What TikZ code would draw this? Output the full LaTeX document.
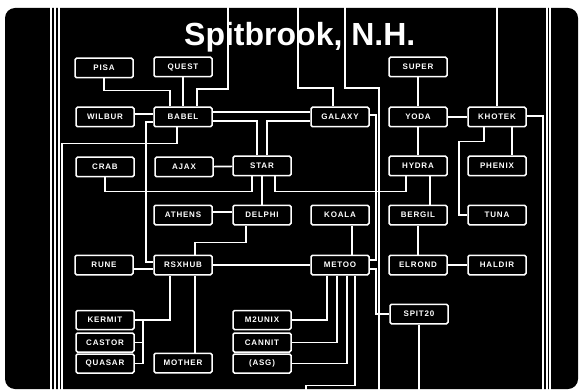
\documentclass[tikz,border=0pt]{standalone}
\usepackage{fontspec}
\setmainfont{Liberation Sans}
\newfontfamily\hostfont[LetterSpace=10]{Liberation Sans}
\tikzset{
  host/.style={draw=white,line width=1.5pt,rounded corners=1.5pt,fill=black,text=white,
    minimum width=58pt,minimum height=19.5pt,inner sep=0pt,font=\hostfont\bfseries\fontsize{8}{9}\selectfont},
  stack/.style={host,minimum height=19pt},
  link/.style={white,line width=1.7pt},
  rail/.style={white,line width=1.4pt}
}
\begin{document}
\begin{tikzpicture}[x=1pt,y=-1pt]
\useasboundingbox (0,0) rectangle (583,390);
\fill[white] (0,0) rectangle (583,390);
\fill[black,rounded corners=10pt] (5,8) rectangle (578,389);
\node[anchor=base west,text=white,font=\bfseries\fontsize{32}{34}\selectfont,inner sep=0pt] (title) at (184,46) {Spitbrook, N.H.};
\foreach \x in {51,55,59,547,550} \draw[rail] (\x,0) -- (\x,390);
\coordinate (upB) at (228,0);\coordinate (upG) at (298,0);\coordinate (upM) at (345,0);\coordinate (upK) at (497,0);
\coordinate (dnL) at (62,390);\coordinate (dnA) at (306,390);\coordinate (dnM) at (379,390);
\coordinate (dnS) at (419,390);\coordinate (dnK) at (543,390);
\node[host] (pisa) at (104,68) {PISA};\node[host] (quest) at (183,67) {QUEST};\node[host] (super) at (418,67) {SUPER};
\node[host] (wilbur) at (105,117) {WILBUR};\node[host] (babel) at (183,117) {BABEL};
\node[host] (galaxy) at (340,117) {GALAXY};\node[host] (yoda) at (418,117) {YODA};\node[host] (khotek) at (497,117) {KHOTEK};
\node[host] (crab) at (105,167) {CRAB};\node[host] (ajax) at (184,167) {AJAX};\node[host] (star) at (262,166) {STAR};
\node[host] (hydra) at (418,166) {HYDRA};\node[host] (phenix) at (497,166) {PHENIX};
\node[host] (athens) at (183,215) {ATHENS};\node[host] (delphi) at (262,215) {DELPHI};\node[host] (koala) at (340,215) {KOALA};
\node[host] (bergil) at (418,215) {BERGIL};\node[host] (tuna) at (497,215) {TUNA};
\node[host] (rune) at (104,265) {RUNE};\node[host] (rsxhub) at (183,265) {RSXHUB};\node[host] (metoo) at (340,265) {METOO};
\node[host] (elrond) at (418,265) {ELROND};\node[host] (haldir) at (497,265) {HALDIR};
\node[host] (spit) at (419,314) {SPIT20};
\node[stack] (kermit) at (105,320) {KERMIT};\node[stack] (castor) at (105,342.5) {CASTOR};\node[stack] (quasar) at (105,363.5) {QUASAR};
\node[stack] (m2unix) at (262,320) {M2UNIX};\node[stack] (cannit) at (262,342.5) {CANNIT};\node[stack] (asg) at (262,363.5) {(ASG)};
\node[host] (mother) at (183,363) {MOTHER};
\draw[link] (pisa.south) -- ++(0,12) -| ([xshift=-13pt]babel.north);
\draw[link] (quest) -- (babel);
\draw[link] (upB) -- ++(0,89) -| ([xshift=14pt]babel.north);
\draw[link] ([yshift=3pt]wilbur.east) -- ([yshift=3pt]babel.west);
\draw[link] ([yshift=5pt]babel.east) -- ([yshift=5pt]galaxy.west);
\draw[link] ([yshift=-4pt]babel.east) -| ([xshift=-5pt]star.north);
\draw[link] ([yshift=-4pt]galaxy.west) -| ([xshift=5pt]star.north);
\draw[link] (ajax) -- (star);
\draw[link] (crab.south) -- ++(0,14) -| ([xshift=-10pt]star.south);
\draw[link] (star) -- (delphi);
\draw[link] ([xshift=13pt]star.south) -- ++(0,15) -| ([xshift=-12pt]hydra.south);
\draw[link] ([yshift=-5pt]babel.west) -- ++(-7,0) |- ([yshift=3pt]rsxhub.west);
\draw[link] ([yshift=-4pt]rune.east) -- ([yshift=-4pt]rsxhub.west);
\draw[link] ([xshift=-6pt]babel.south) -- ++(0,16) -| (dnL);
\draw[link] (upG) -- ++(0,88) -| ([xshift=-7pt]galaxy.north);
\draw[link] (upM) -- ++(0,88) -| (dnM);
\draw[link] ([yshift=2pt]galaxy.east) -- ++(6,0) |- ([yshift=5pt]metoo.east);
\draw[link] ([yshift=-4pt]metoo.east) -- ++(6,0) |- (spit.west);
\draw[link] (super) -- (yoda);
\draw[link] (yoda) -- (hydra);
\draw[link] (yoda) -- (khotek);
\draw[link] (upK) -- (khotek.north);
\draw[link] ([yshift=1pt]khotek.east) -| (dnK);
\draw[link] ([xshift=-13pt]khotek.south) -- ++(0,14) -- ++(-25,0) |- (tuna.west);
\draw[link] ([xshift=15pt]khotek.south) -- ([xshift=15pt]phenix.north);
\draw[link] ([xshift=12pt]hydra.south) -- ([xshift=12pt]bergil.north);
\draw[link] (bergil) -- (elrond);
\draw[link] (elrond) -- (haldir);
\draw[link] (spit) -- (dnS);
\draw[link] ([xshift=12pt]koala.south) -- ([xshift=12pt]metoo.north);
\draw[link] (rsxhub) -- (metoo);
\draw[link] ([xshift=-13pt]metoo.south) |- (m2unix.east);
\draw[link] ([xshift=-3pt]metoo.south) |- (cannit.east);
\draw[link] ([xshift=7pt]metoo.south) |- (asg.east);
\draw[link] ([xshift=15pt]metoo.south) -- ++(0,110) -| (dnA);
\draw[link] ([xshift=-16pt]delphi.south) -- ++(0,17) -| ([xshift=12pt]rsxhub.north);
\draw[link] ([yshift=3pt]athens.east) -- ([yshift=3pt]delphi.west);
\draw[link] ([xshift=-13pt]rsxhub.south) |- (kermit.east);
\draw[link] (kermit.east) -- ++(8,0) |- (castor.east);
\draw[link] (kermit.east) ++(8,0) |- (quasar.east);
\draw[link] ([xshift=12pt]rsxhub.south) -- ([xshift=12pt]mother.north);
\end{tikzpicture}
\end{document}
